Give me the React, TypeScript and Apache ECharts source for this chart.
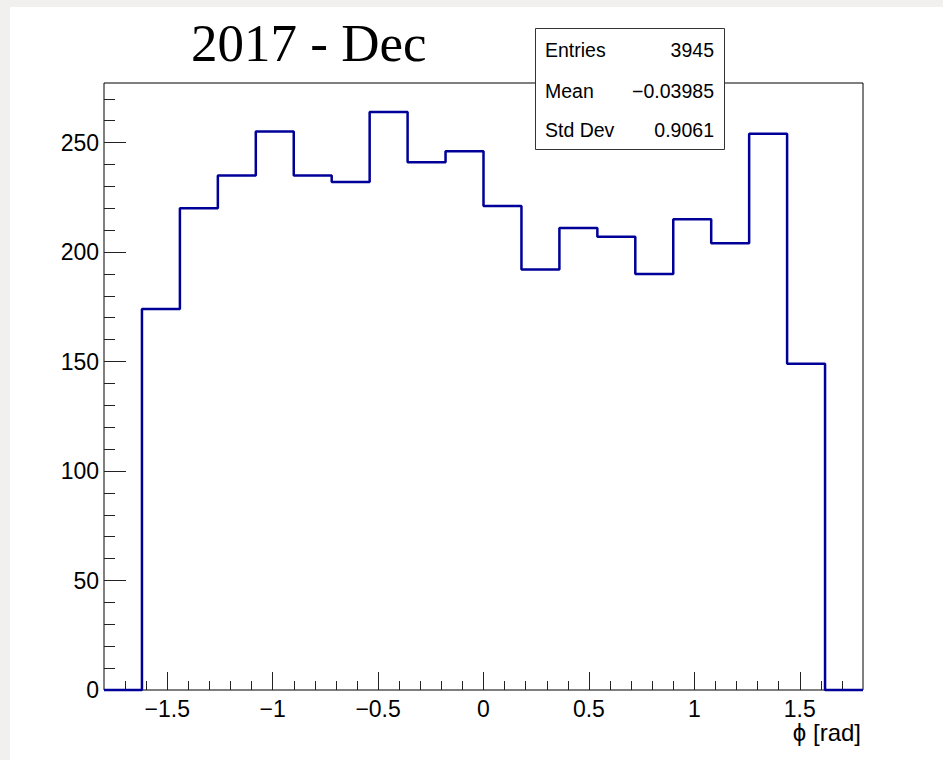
import React, { useEffect, useRef } from 'react';
import * as echarts from 'echarts';

// ---- data ----
const binMin = -1.8;
const binWidth = 0.18;
const counts = [0, 174, 220, 235, 255, 235, 232, 264, 241, 246, 221, 192, 211, 207, 190, 215, 204, 254, 149, 0];

const xMin = -1.8;
const xMax = 1.8;
const yMin = 0;
const yMax = 277.2;

const xMajorTicks = [-1.5, -1, -0.5, 0, 0.5, 1, 1.5];
const yMajorTicks = [0, 50, 100, 150, 200, 250];

const titleText = '2017 - Dec';
const xTitle = 'ϕ [rad]';
const statsLabels = ['Entries', 'Mean', 'Std Dev'];
const statsValues = ['3945', '\u22120.03985', '0.9061'];

const xMinorTicks: number[] = [];
for (let i = -17; i <= 17; i++) if (i % 5 !== 0) xMinorTicks.push(i / 10);
const yMinorTicks: number[] = [];
for (let v = 10; v <= 270; v += 10) if (v % 50 !== 0) yMinorTicks.push(v);

const SANS = '"Liberation Sans", Arial, Helvetica, sans-serif';
const SERIF = '"Liberation Serif", "Times New Roman", serif';

export default function App() {
  const ref = useRef<HTMLDivElement>(null);

  useEffect(() => {
    if (!ref.current) return;
    const chart = echarts.init(ref.current, undefined, { renderer: 'svg' });

    const steps: number[][] = [];
    counts.forEach((c, i) => {
      const lo = +(binMin + i * binWidth).toFixed(4);
      const hi = +(binMin + (i + 1) * binWidth).toFixed(4);
      steps.push([lo, c], [hi, c]);
    });

    const tickStyle = { color: '#222', width: 1 };
    const fmt = (v: number) => String(v).replace('-', '\u2212');

    const statsRowsY = [50, 90.5, 130];
    const graphic: any[] = [
      {
        type: 'text',
        z: 100,
        style: { text: titleText, x: 191, y: 43, font: `53px ${SERIF}`, fill: '#000', align: 'left', verticalAlign: 'middle' },
      },
      {
        type: 'rect',
        z: 100,
        shape: { x: 535.5, y: 28.5, width: 189, height: 121 },
        style: { fill: '#fff', stroke: '#333', lineWidth: 1 },
      },
      {
        type: 'text',
        z: 101,
        style: { text: xTitle, x: 861, y: 732, font: `24px ${SANS}`, fill: '#000', align: 'right', verticalAlign: 'middle' },
      },
    ];
    statsLabels.forEach((l, i) => {
      graphic.push({
        type: 'text',
        z: 101,
        style: { text: l, x: 545, y: statsRowsY[i], font: `19.5px ${SANS}`, fill: '#000', align: 'left', verticalAlign: 'middle' },
      });
      graphic.push({
        type: 'text',
        z: 101,
        style: { text: statsValues[i], x: 714, y: statsRowsY[i], font: `19.5px ${SANS}`, fill: '#000', align: 'right', verticalAlign: 'middle' },
      });
    });

    chart.setOption({
      animation: false,
      backgroundColor: 'transparent',
      grid: {
        left: 104,
        right: 80,
        top: 83,
        bottom: 70,
        show: true,
        borderColor: '#000',
        borderWidth: 1,
        backgroundColor: 'transparent',
        containLabel: false,
        outerBoundsMode: 'none',
      },
      xAxis: [
        {
          type: 'value',
          min: xMin,
          max: xMax,
          position: 'bottom',
          axisLine: { show: false, onZero: false },
          splitLine: { show: false },
          axisTick: { show: true, inside: true, length: 18, customValues: xMajorTicks, lineStyle: tickStyle },
          axisLabel: { show: true, customValues: xMajorTicks, margin: 7, fontSize: 23, fontFamily: SANS, color: '#000', formatter: fmt },
        },
        {
          type: 'value',
          min: xMin,
          max: xMax,
          position: 'bottom',
          axisLine: { show: false, onZero: false },
          splitLine: { show: false },
          axisLabel: { show: false },
          axisTick: { show: true, inside: true, length: 9, customValues: xMinorTicks, lineStyle: tickStyle },
        },
      ],
      yAxis: [
        {
          type: 'value',
          min: yMin,
          max: yMax,
          position: 'left',
          axisLine: { show: false, onZero: false },
          splitLine: { show: false },
          axisTick: { show: true, inside: true, length: 22, customValues: yMajorTicks, lineStyle: tickStyle },
          axisLabel: { show: true, customValues: yMajorTicks, margin: 5, fontSize: 23, fontFamily: SANS, color: '#000' },
        },
        {
          type: 'value',
          min: yMin,
          max: yMax,
          position: 'left',
          axisLine: { show: false, onZero: false },
          splitLine: { show: false },
          axisLabel: { show: false },
          axisTick: { show: true, inside: true, length: 11, customValues: yMinorTicks, lineStyle: tickStyle },
        },
      ],
      series: [
        {
          type: 'line',
          xAxisIndex: 0,
          yAxisIndex: 0,
          data: steps,
          symbol: 'none',
          showSymbol: false,
          clip: false,
          silent: true,
          lineStyle: { color: '#000099', width: 2.5 },
        },
      ],
      graphic,
    });

    return () => chart.dispose();
  }, []);

  return (
    <div style={{ position: 'fixed', left: 0, top: 0, width: 943, height: 760, background: '#f1f0ee', overflow: 'hidden' }}>
      <div style={{ position: 'absolute', left: 10, top: 7, width: 933, height: 753, background: '#ffffff' }} />
      <div ref={ref} style={{ position: 'absolute', left: 0, top: 0, width: 943, height: 760 }} />
    </div>
  );
}
